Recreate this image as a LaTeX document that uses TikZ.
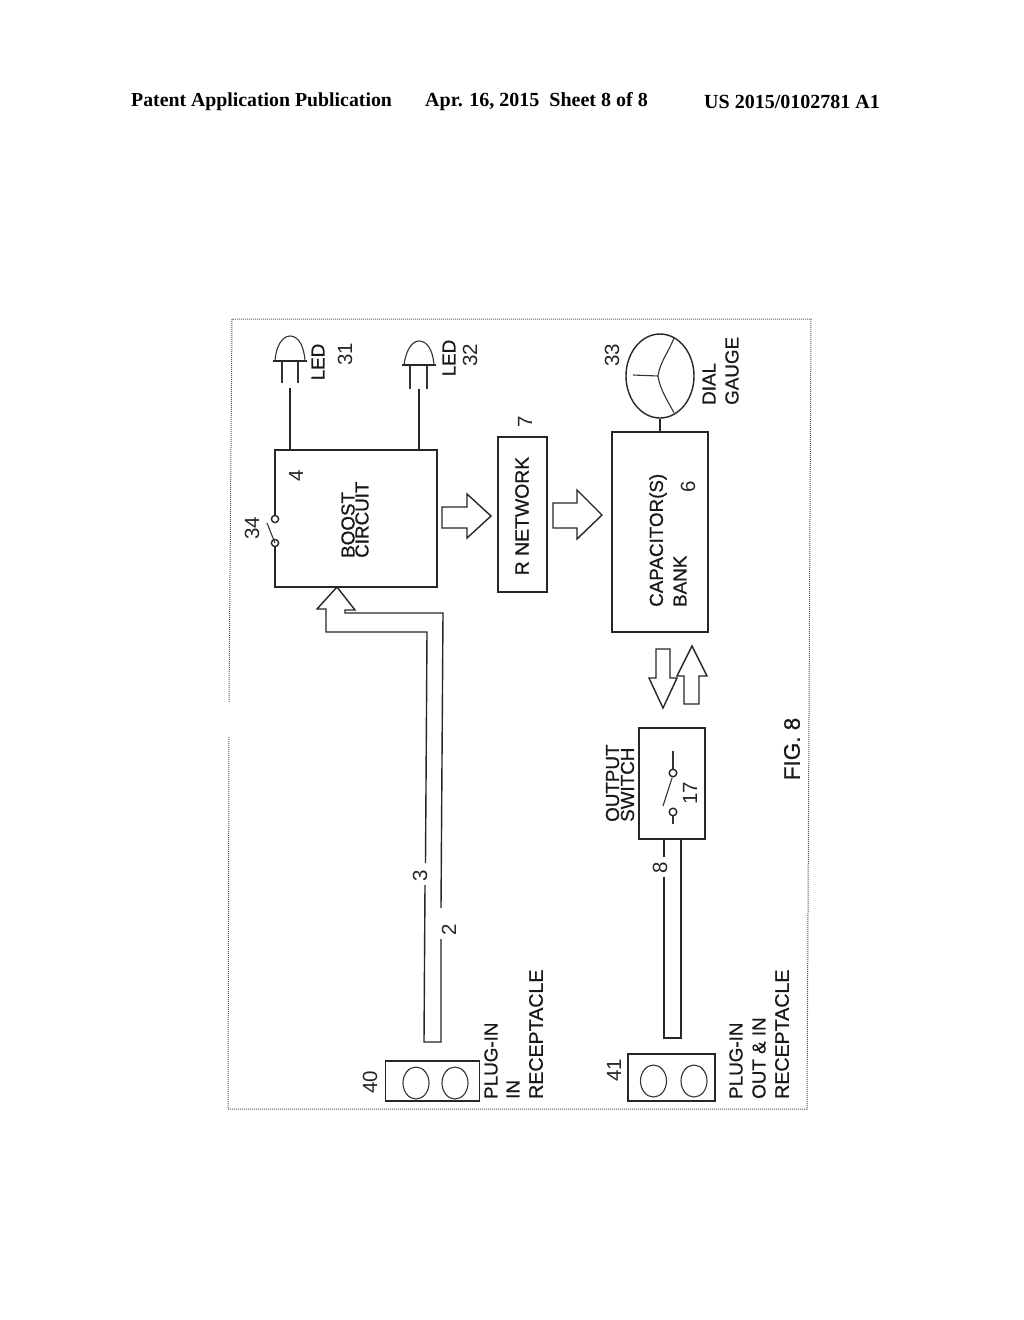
\documentclass[tikz,border=0pt]{standalone}
\usepackage{fontspec}
\usetikzlibrary{shapes.geometric}
\setmainfont{Liberation Sans}
\newfontfamily\serifhead{Liberation Serif}
\newfontfamily\scanfont[FakeBold=0.7]{Liberation Sans}
\tikzset{
 ln/.style={draw=black!85,line width=1.4pt,line join=miter},
 thin ln/.style={draw=black!80,line width=1.1pt},
 frame/.style={draw=black!65,line width=1pt,densely dotted},
 lbl/.style={rotate=90,font=\fontsize{20.5}{20.5}\selectfont,text=black!85,inner sep=0pt,anchor=center},
 captxt/.style={rotate=90,font=\scanfont\fontsize{18.8}{18.8}\selectfont,text=black!90,inner sep=0pt},
 capb/.style={captxt,anchor=west},
 capw/.style={capb,font=\scanfont\fontsize{19.6}{19.6}\selectfont},
 head/.style={font=\serifhead\bfseries\fontsize{20}{20}\selectfont,inner sep=0pt,anchor=west},
}
\begin{document}
\begin{tikzpicture}[x=1pt,y=-1pt]
\useasboundingbox[fill=white] (0,0) rectangle (1024,1320);
% header
\node[head,font=\serifhead\bfseries\fontsize{19.8}{19.8}\selectfont] (h1) at (131,101.5) {Patent Application Publication};
\node[head] (h2) at (425,101.5) {Apr. 16, 2015\ \ Sheet 8 of 8};
\node[head] (h3) at (704,101.5) {US 2015/0102781 A1};
% frame
\draw[frame] (229,702) -- (232,319) -- (811,319) -- (807,1109) -- (228,1109) -- (229,737);
% boost
\coordinate (bTL) at (275,450); \coordinate (bTR) at (437,450);
\coordinate (bBR) at (437,587); \coordinate (bBL) at (275,587);
\coordinate (sw1) at (275,519); \coordinate (sw2) at (275,543);
\draw[ln] (sw1) -- (bTL) -- (bTR) -- (bBR) -- (bBL) -- (sw2);
\draw[ln,fill=white] (sw1) circle (3.6);
\draw[ln,fill=white] (sw2) circle (3.6);
\draw[thin ln] (267,523) -- (sw2);
\node[capb] (boost) at (348,558) {BOOST};
\node[capb] (circuit) at (362,558) {CIRCUIT};
\node[lbl] (n4) at (296,476) {4};
\node[lbl] (n34) at (252,528) {34};
% LED 31
\draw[ln,line width=2pt] (273,361) -- (307,361);
\draw[thin ln] (275,361) .. controls (276,345) and (283,336) .. (290,336) .. controls (298,336) and (304,345) .. (305,361);
\draw[thin ln] (282,361) -- (282,383) (298,361) -- (298,383);
\coordinate (l31) at (290,388);
\draw[ln] (l31) -- (290,450);
\node[captxt] (led1) at (318,362) {LED};
\node[lbl] (n31) at (345,354) {31};
% LED 32
\draw[ln,line width=2pt] (402,365) -- (436,365);
\draw[thin ln] (404,365) .. controls (406,350) and (412,341) .. (419,341) .. controls (427,341) and (433,350) .. (434,365);
\draw[thin ln] (410,365) -- (410,389) (427,365) -- (427,389);
\coordinate (l32) at (419,389);
\draw[ln] (l32) -- (419,450);
\node[captxt] (led2) at (449,358) {LED};
\node[lbl] (n32) at (470,355) {32};
% arrow to R
\draw[ln] (442,507) -- (467,507) -- (467,494) -- (491,516) -- (467,538) -- (467,528) -- (442,528) -- cycle;
% R network
\node[ln,minimum width=49pt,minimum height=155pt,inner sep=0pt] (rnet) at (522.5,514.5) {};
\node[captxt,font=\scanfont\fontsize{19.4}{19.4}\selectfont] (rtxt) at (522,516) {R NETWORK};
\node[lbl] (n7) at (525,422) {7};
% arrow to cap
\draw[ln] (553,503) -- (577,503) -- (577,490) -- (602,515) -- (577,539) -- (577,528) -- (553,528) -- cycle;
% capacitor
\node[ln,minimum width=96pt,minimum height=200pt,inner sep=0pt] (capbox) at (660,532) {};
\node[capb] (captext) at (658,607) {CAPACITOR(S)};
\node[capb] (banktxt) at (680,607) {BANK};
\node[lbl] (n6) at (688,487) {6};
% gauge
\node[ln,ellipse,minimum width=68pt,minimum height=84pt,inner sep=0pt] (gauge) at (660,376) {};
\draw[ln] (gauge.south) -- (gauge.south |- capbox.north);
\coordinate (gc) at (658,376);
\draw[thin ln] (633,375) -- (gc);
\draw[thin ln] (674,338) .. controls (668,353) and (660,362) .. (gc) .. controls (660,390) and (668,401) .. (674,413);
\node[lbl] (n33) at (612,355) {33};
\node[capb] (dial) at (709,405) {DIAL};
\node[capb] (gaugetxt) at (732,405) {GAUGE};
% bidirectional arrows
\draw[ln] (656,649) -- (670,649) -- (670,678) -- (677,678) -- (663,708) -- (649,678) -- (656,678) -- cycle;
\draw[ln] (684,704) -- (699,704) -- (699,676) -- (707,676) -- (692,646) -- (677,676) -- (684,676) -- cycle;
% output switch
\node[ln,minimum width=66pt,minimum height=111pt,inner sep=0pt] (outsw) at (672,783.5) {};
\node[capb] (out1) at (612.5,822) {OUTPUT};
\node[capb] (out2) at (627.5,822) {SWITCH};
\draw[ln,fill=white] (673,773) circle (3.8);
\draw[ln,fill=white] (673,812) circle (3.8);
\draw[thin ln] (673,751) -- (673,769.2);
\draw[thin ln] (673,815.8) -- (673,824);
\draw[thin ln] (672,778) -- (663,806);
\node[lbl] (n17) at (690,793) {17};
% input wire
\draw[ln] (337,587) -- (317,609) -- (326,609) -- (326,632) -- (427,632) -- (425.5,863) (425,885) -- (424,1042) -- (441,1042) -- (441,939);
\draw[ln] (441,908) -- (443,613) -- (345,613) -- (345,610) -- (355,610) -- (337,587);
\node[lbl] (n3) at (420,876) {3};
\node[lbl] (n2) at (449,930) {2};
% receptacle 40
\node[ln,minimum width=94pt,minimum height=40pt,inner sep=0pt] (r40) at (432.5,1081) {};
\node[thin ln,ellipse,minimum width=26pt,minimum height=32pt,inner sep=0pt] (r40a) at (416,1083) {};
\node[thin ln,ellipse,minimum width=26pt,minimum height=32pt,inner sep=0pt] (r40b) at (455,1083) {};
\node[lbl] (n40) at (370,1082) {40};
\node[capb] (p1) at (491,1099) {PLUG-IN};
\node[capb] (p2) at (513,1099) {IN};
\node[capw] (p3) at (536,1099) {RECEPTACLE};
% output wire
\draw[ln] (664,839) -- (664,857) (664,877) -- (664,1038) -- (681,1038) -- (681,839);
\node[lbl] (n8) at (660,868) {8};
% receptacle 41
\node[ln,minimum width=87pt,minimum height=47pt,inner sep=0pt] (r41) at (671.5,1077.5) {};
\node[thin ln,ellipse,minimum width=26pt,minimum height=32pt,inner sep=0pt] (r41a) at (653.5,1081) {};
\node[thin ln,ellipse,minimum width=26pt,minimum height=32pt,inner sep=0pt] (r41b) at (694,1081) {};
\node[lbl] (n41) at (614,1070) {41};
\node[capb] (q1) at (736,1099) {PLUG-IN};
\node[capb] (q2) at (759,1099) {OUT \& IN};
\node[capw] (q3) at (782,1099) {RECEPTACLE};
% fig
\node[rotate=90,font=\scanfont\fontsize{22.5}{22.5}\selectfont,inner sep=0pt,text=black!90] (fig) at (792,749) {FIG. 8};
\end{tikzpicture}
\end{document}
